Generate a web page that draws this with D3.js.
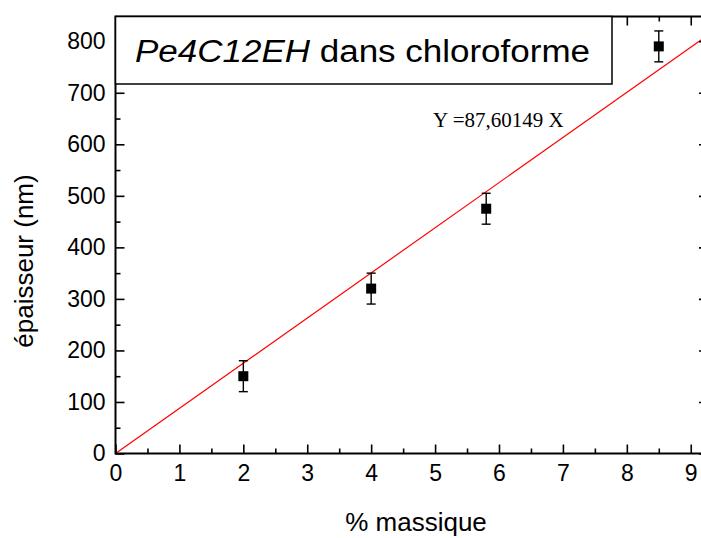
<!DOCTYPE html>
<html>
<head>
<meta charset="utf-8">
<script src="https://cdn.jsdelivr.net/npm/d3@7"></script>
<style>
  html, body { margin: 0; padding: 0; background: #fff; }
  svg { display: block; }
  text { font-family: Arial, "Liberation Sans", Helvetica, sans-serif; fill: #000; }
</style>
</head>
<body>
<svg id="chart" width="701" height="538"></svg>
<script>
// Film thickness vs mass fraction, with linear fit through the origin
const concentrations = [2, 4, 5.8, 8.5];          // % massique
const thicknesses    = [150, 320, 475, 790];      // nm
const errors         = [30, 30, 30, 30];          // nm
const slope = 87.60149;

const xTicks = [0, 1, 2, 3, 4, 5, 6, 7, 8, 9];
const yTicks = [0, 100, 200, 300, 400, 500, 600, 700, 800];
const xMinorTicks = d3.range(0.5, 9.3, 1);
const yMinorTicks = d3.range(50, 850, 100);

const title = { italic: "Pe4C12EH", plain: " dans chloroforme" };
const equation = "Y =87,60149 X";
const xLabel = "% massique";
const yLabel = "épaisseur (nm)";

const plotLeft = 115.5, plotRight = 708, plotTop = 16.5, plotBottom = 453.5;

const svg = d3.select("#chart");

const x = d3.scaleLinear().domain([0, 9.27]).range([plotLeft, plotRight]);
const y = d3.scaleLinear().domain([0, 848]).range([plotBottom, plotTop]);

// clip region for data marks
svg.append("defs").append("clipPath").attr("id", "plot-clip")
  .append("rect").attr("x", plotLeft).attr("y", plotTop)
  .attr("width", plotRight - plotLeft).attr("height", plotBottom - plotTop);

// fit line
const line = d3.line().x(d => x(d)).y(d => y(slope * d));
svg.append("path")
  .datum([0, 9.27])
  .attr("d", line)
  .attr("clip-path", "url(#plot-clip)")
  .attr("fill", "none")
  .attr("stroke", "#ff0000")
  .attr("stroke-width", 1.2);

// error bars
const pts = concentrations.map((c, i) => ({ c, t: thicknesses[i], e: errors[i] }));
const eb = svg.append("g").attr("stroke", "#000").attr("stroke-width", 1.4);
pts.forEach(p => {
  const cx = x(p.c);
  eb.append("line").attr("x1", cx).attr("x2", cx).attr("y1", y(p.t + p.e)).attr("y2", y(p.t - p.e));
  eb.append("line").attr("x1", cx - 4.5).attr("x2", cx + 4.5).attr("y1", y(p.t + p.e)).attr("y2", y(p.t + p.e));
  eb.append("line").attr("x1", cx - 4.5).attr("x2", cx + 4.5).attr("y1", y(p.t - p.e)).attr("y2", y(p.t - p.e));
});

// square markers
svg.append("g").selectAll("rect").data(pts).join("rect")
  .attr("x", d => x(d.c) - 5).attr("y", d => y(d.t) - 5)
  .attr("width", 10).attr("height", 10)
  .attr("fill", "#000");

// axes with inward ticks on all four sides
function styleAxis(g) {
  g.selectAll(".domain").remove();
  g.selectAll("line").attr("stroke", "#000").attr("stroke-width", 1.6);
}
const tickFont = "23px";

// bottom
const gB = svg.append("g").attr("transform", `translate(0,${plotBottom})`)
  .call(d3.axisBottom(x).tickValues(xTicks).tickSizeInner(-9).tickSizeOuter(0).tickPadding(11).tickFormat(d3.format("d")));
styleAxis(gB);
gB.selectAll("text").style("font-size", tickFont).attr("fill", "#000");
svg.append("g").attr("transform", `translate(0,${plotBottom})`)
  .call(d3.axisBottom(x).tickValues(xMinorTicks).tickSizeInner(-5).tickSizeOuter(0).tickFormat(""))
  .call(styleAxis);

// top
svg.append("g").attr("transform", `translate(0,${plotTop})`)
  .call(d3.axisTop(x).tickValues(xTicks).tickSizeInner(-9).tickSizeOuter(0).tickFormat(""))
  .call(styleAxis);
svg.append("g").attr("transform", `translate(0,${plotTop})`)
  .call(d3.axisTop(x).tickValues(xMinorTicks).tickSizeInner(-5).tickSizeOuter(0).tickFormat(""))
  .call(styleAxis);

// left
const gL = svg.append("g").attr("transform", `translate(${plotLeft},0)`)
  .call(d3.axisLeft(y).tickValues(yTicks).tickSizeInner(-9).tickSizeOuter(0).tickPadding(10).tickFormat(d3.format("d")));
styleAxis(gL);
gL.selectAll("text").style("font-size", tickFont).attr("fill", "#000");
svg.append("g").attr("transform", `translate(${plotLeft},0)`)
  .call(d3.axisLeft(y).tickValues(yMinorTicks).tickSizeInner(-5).tickSizeOuter(0).tickFormat(""))
  .call(styleAxis);

// right
svg.append("g").attr("transform", `translate(${plotRight},0)`)
  .call(d3.axisRight(y).tickValues(yTicks).tickSizeInner(-9).tickSizeOuter(0).tickFormat(""))
  .call(styleAxis);
svg.append("g").attr("transform", `translate(${plotRight},0)`)
  .call(d3.axisRight(y).tickValues(yMinorTicks).tickSizeInner(-5).tickSizeOuter(0).tickFormat(""))
  .call(styleAxis);

// frame lines
svg.append("rect")
  .attr("x", plotLeft).attr("y", plotTop)
  .attr("width", plotRight - plotLeft).attr("height", plotBottom - plotTop)
  .attr("fill", "none").attr("stroke", "#000").attr("stroke-width", 2);

// title box
svg.append("rect")
  .attr("x", plotLeft).attr("y", plotTop)
  .attr("width", 612 - plotLeft).attr("height", 84 - plotTop)
  .attr("fill", "#fff").attr("stroke", "#000").attr("stroke-width", 1.5);
const t = svg.append("text")
  .attr("x", 135).attr("y", 62)
  .attr("textLength", 455).attr("lengthAdjust", "spacingAndGlyphs")
  .style("font-size", "31px");
t.append("tspan").style("font-style", "italic").text(title.italic);
t.append("tspan").text(title.plain);

// fit equation
svg.append("text")
  .attr("x", 433).attr("y", 127)
  .style("font-family", "'Liberation Serif', 'Times New Roman', serif")
  .style("font-size", "21px")
  .text(equation);

// axis titles
svg.append("text")
  .attr("x", 416).attr("y", 531)
  .attr("text-anchor", "middle")
  .style("font-size", "26px")
  .text(xLabel);
svg.append("text")
  .attr("transform", "translate(33,261) rotate(-90)")
  .attr("text-anchor", "middle")
  .style("font-size", "26px")
  .text(yLabel);
</script>
</body>
</html>
